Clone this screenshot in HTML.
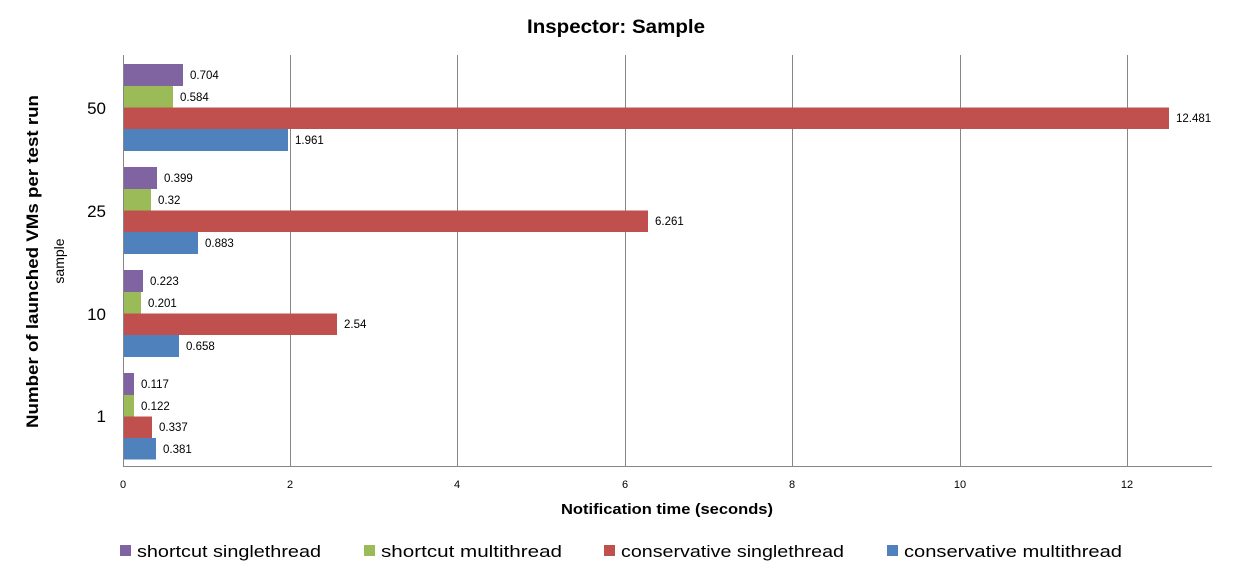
<!DOCTYPE html>
<html><head><style>body{margin:0;background:#fff}</style></head><body>
<svg width="1234" height="577" xmlns="http://www.w3.org/2000/svg" font-family="Liberation Sans, DejaVu Sans, sans-serif">
<text x="527" y="33" textLength="178" lengthAdjust="spacingAndGlyphs" font-size="19" font-weight="bold">Inspector: Sample</text>
<g stroke="#868686" stroke-width="1">
<line x1="290.5" y1="55" x2="290.5" y2="467"/>
<line x1="457.5" y1="55" x2="457.5" y2="467"/>
<line x1="625.5" y1="55" x2="625.5" y2="467"/>
<line x1="792.5" y1="55" x2="792.5" y2="467"/>
<line x1="960.5" y1="55" x2="960.5" y2="467"/>
<line x1="1127.5" y1="55" x2="1127.5" y2="467"/>
<line x1="123.5" y1="55" x2="123.5" y2="467"/>
<line x1="123" y1="466.5" x2="1212" y2="466.5"/>
</g>
<g>
<rect x="124" y="64" width="59" height="22" fill="#8064a2"/>
<rect x="124" y="86" width="49" height="21.5" fill="#9bbb59"/>
<rect x="124" y="107.5" width="1045" height="21.5" fill="#c0504d"/>
<rect x="124" y="129" width="164" height="22" fill="#4f81bd"/>
<rect x="124" y="167" width="33" height="22" fill="#8064a2"/>
<rect x="124" y="189" width="27" height="21.5" fill="#9bbb59"/>
<rect x="124" y="210.5" width="524" height="21.5" fill="#c0504d"/>
<rect x="124" y="232" width="74" height="22" fill="#4f81bd"/>
<rect x="124" y="270" width="19" height="22" fill="#8064a2"/>
<rect x="124" y="292" width="17" height="21.5" fill="#9bbb59"/>
<rect x="124" y="313.5" width="213" height="21.5" fill="#c0504d"/>
<rect x="124" y="335" width="55" height="22" fill="#4f81bd"/>
<rect x="124" y="373" width="10" height="22" fill="#8064a2"/>
<rect x="124" y="395" width="10" height="21.5" fill="#9bbb59"/>
<rect x="124" y="416.5" width="28" height="21.5" fill="#c0504d"/>
<rect x="124" y="438" width="32" height="21.5" fill="#4f81bd"/>
</g>
<g font-size="11.5" fill="#000">
<text x="190" y="79">0.704</text><text x="180" y="101">0.584</text><text x="1176" y="122">12.481</text><text x="295" y="144">1.961</text>
<text x="164" y="182">0.399</text><text x="158" y="204">0.32</text><text x="655" y="225">6.261</text><text x="205" y="247">0.883</text>
<text x="150" y="285">0.223</text><text x="148" y="307">0.201</text><text x="344" y="328">2.54</text><text x="186" y="350">0.658</text>
<text x="141" y="388">0.117</text><text x="141" y="410">0.122</text><text x="159" y="431">0.337</text><text x="163" y="453">0.381</text>
</g>
<g font-size="11" text-anchor="middle">
<text x="123" y="488">0</text><text x="290" y="488">2</text><text x="457" y="488">4</text><text x="625" y="488">6</text><text x="792" y="488">8</text><text x="960" y="488">10</text><text x="1127" y="488">12</text>
</g>
<g font-size="17" text-anchor="end">
<text x="106" y="114">50</text><text x="106" y="217">25</text><text x="106" y="320">10</text><text x="106" y="422">1</text>
</g>
<text x="561" y="514" textLength="212" lengthAdjust="spacingAndGlyphs" font-size="15" font-weight="bold">Notification time (seconds)</text>
<text transform="translate(38,428) rotate(-90)" textLength="333" lengthAdjust="spacingAndGlyphs" font-size="17" font-weight="bold">Number of launched  VMs per test run</text>
<text transform="translate(64,261) rotate(-90)" text-anchor="middle" font-size="14">sample</text>
<g font-size="17">
<rect x="120" y="545" width="11" height="11" fill="#8064a2"/><text x="137" y="557" textLength="184" lengthAdjust="spacingAndGlyphs">shortcut singlethread</text>
<rect x="364" y="545" width="11" height="11" fill="#9bbb59"/><text x="381" y="557" textLength="181" lengthAdjust="spacingAndGlyphs">shortcut multithread</text>
<rect x="604" y="545" width="11" height="11" fill="#c0504d"/><text x="621" y="557" textLength="223" lengthAdjust="spacingAndGlyphs">conservative singlethread</text>
<rect x="887" y="545" width="11" height="11" fill="#4f81bd"/><text x="904" y="557" textLength="218" lengthAdjust="spacingAndGlyphs">conservative multithread</text>
</g>
</svg>
</body></html>
